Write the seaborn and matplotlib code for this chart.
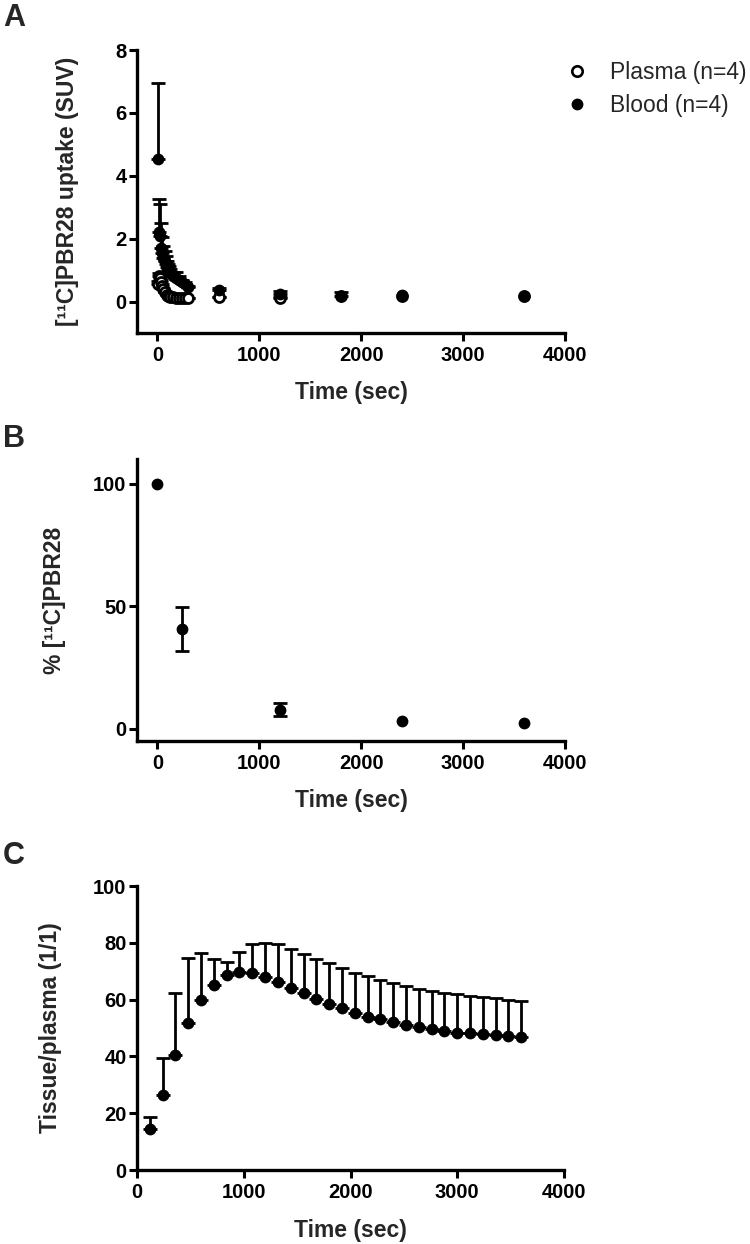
import numpy as np
import pandas as pd
import matplotlib
matplotlib.use("Agg")
import matplotlib.pyplot as plt
import seaborn as sns
from matplotlib.lines import Line2D

# ---------------- data ----------------
# Panel A: blood / plasma SUV curves
blood_time = [10, 20, 30, 40, 50, 60, 70, 80, 90, 100, 110, 120, 150, 180, 210, 240, 270, 300,
              600, 1200, 1800, 2400, 3600]
blood_suv = [4.52, 2.2, 2.1, 1.7, 1.55, 1.4, 1.3, 1.2, 1.1, 1.02, 0.95, 0.9, 0.82, 0.75, 0.7, 0.62, 0.55, 0.45,
             0.38, 0.25, 0.19, 0.2, 0.19]
blood_sd = [2.42, 1.05, 1.0, 0.8, 0.5, 0.36, 0.3, 0.25, 0.2, 0.18, 0.18, 0.15, 0.12, 0.19, 0.1, 0.08, 0.06, 0.05,
            0.06, 0.08, 0.1, 0.0, 0.0]

plasma_time = [10, 20, 30, 40, 50, 60, 75, 90, 105, 120, 150, 180, 210, 240, 270, 300,
               600, 1200, 1800, 2400, 3600]
plasma_suv = [0.55, 0.8, 0.75, 0.62, 0.5, 0.4, 0.3, 0.22, 0.18, 0.15, 0.13, 0.12, 0.11, 0.1, 0.1, 0.1,
              0.13, 0.1, 0.17, 0.19, 0.18]
plasma_sd = [0.1, 0.1, 0.08, 0.06, 0.05, 0.04, 0.03, 0.03, 0.02, 0.02, 0.02, 0.02, 0.02, 0.02, 0.02, 0.02,
             0.03, 0.03, 0.0, 0.0, 0.0]

# Panel B: % parent compound
parent_time = [0, 240, 1200, 2400, 3600]
parent_pct = [100, 40.5, 7.7, 3.2, 2.5]
parent_sd = [0, 9.0, 2.6, 0.4, 0.4]

# Panel C: tissue/plasma ratio
ratio_time = [120, 240, 360, 480, 600, 720, 840, 960, 1080, 1200, 1320, 1440, 1560, 1680, 1800,
              1920, 2040, 2160, 2280, 2400, 2520, 2640, 2760, 2880, 3000, 3120, 3240, 3360, 3480, 3600]
ratio_mean = [14.3, 26.3, 40.5, 51.6, 59.9, 65.1, 68.7, 69.8, 69.2, 68.1, 66.1, 64.0, 62.2, 60.2, 58.5,
              56.9, 55.4, 54.0, 53.1, 52.1, 51.1, 50.2, 49.5, 49.1, 48.4, 48.1, 47.8, 47.4, 47.2, 46.7]
ratio_sd = [4.2, 13.3, 21.9, 22.9, 16.4, 9.3, 4.4, 7.0, 10.3, 11.9, 13.4, 13.9, 14.0, 14.2, 14.3,
            14.1, 14.1, 14.4, 13.8, 13.7, 13.8, 13.6, 13.6, 13.3, 13.6, 13.3, 13.2, 13.2, 12.7, 12.9]

# ---------------- style ----------------
sns.set_theme(style="ticks")
plt.rcParams["font.family"] = ["Liberation Sans", "DejaVu Sans"]

W, H = 750, 1244
fig = plt.figure(figsize=(W / 100, H / 100), dpi=100)


def ax_at(l, t, r, b):
    return fig.add_axes([l / W, 1 - b / H, (r - l) / W, (b - t) / H])


axA = ax_at(137, 50, 565, 333)
axB = ax_at(137, 459, 565, 741)
axC = ax_at(137, 886, 564, 1170)

MS = 72
EB = dict(fmt="none", ecolor="black", elinewidth=2.0, capsize=4.8, capthick=2.0, zorder=2)


def errbars(ax, df, upper_only, min_visible):
    d = df[df["sd"] > min_visible]
    if upper_only:
        ax.errorbar(d["t"], d["v"], yerr=[np.zeros(len(d)), d["sd"]], **EB)
    else:
        ax.errorbar(d["t"], d["v"], yerr=d["sd"], **EB)


def style(ax, ylabel, ylab_x):
    sns.despine(ax=ax)
    for s in ("left", "bottom"):
        ax.spines[s].set_linewidth(2.4)
        ax.spines[s].set_color("black")
    ax.tick_params(axis="both", direction="out", length=6, width=2.2, colors="black",
                   labelsize=14.5)
    ax.tick_params(axis="x", pad=3.5)
    ax.tick_params(axis="y", pad=1.5)
    for lab in ax.get_xticklabels() + ax.get_yticklabels():
        lab.set_fontweight("bold")
    ax.set_xlabel("Time (sec)", fontsize=16.5, fontweight="bold", va="center")
    ax.set_ylabel(ylabel, fontsize=16.5, fontweight="bold", va="center")
    hpx = ax.get_position().height * H
    wpx = ax.get_position().width * W
    ax.xaxis.set_label_coords(0.5, -60 / hpx)
    ax.yaxis.set_label_coords((ylab_x - 137) / wpx, 0.5)
    ax.set_facecolor("white")


# ---- Panel A ----
dfb = pd.DataFrame({"t": blood_time, "v": blood_suv, "sd": blood_sd})
dfp = pd.DataFrame({"t": plasma_time, "v": plasma_suv, "sd": plasma_sd})
errbars(axA, dfp, True, 0.005)
sns.scatterplot(data=dfp, x="t", y="v", ax=axA, s=52, facecolor="white", edgecolor="black",
                linewidth=2.0, zorder=3, legend=False)
errbars(axA, dfb, True, 0.005)
sns.scatterplot(data=dfb, x="t", y="v", ax=axA, s=MS, color="black", edgecolor="black",
                linewidth=0, zorder=4, legend=False)
axA.set_xlim(-200, 4000)
axA.set_ylim(-1, 8)
axA.set_xticks([0, 1000, 2000, 3000, 4000])
axA.set_yticks([0, 2, 4, 6, 8])
style(axA, "[¹¹C]PBR28 uptake (SUV)", 68)

handles = [
    Line2D([], [], ls="none", marker="o", markersize=7.5, markerfacecolor="white",
           markeredgecolor="black", markeredgewidth=1.9),
    Line2D([], [], ls="none", marker="o", markersize=8.5, markerfacecolor="black",
           markeredgecolor="black", markeredgewidth=0),
]
axA.legend(handles, ["Plasma (n=4)", "Blood (n=4)"], loc="center left",
           bbox_to_anchor=(565.5 / W, 1 - 89 / H), bbox_transform=fig.transFigure,
           frameon=False, borderpad=0, borderaxespad=0, handlelength=1.0,
           handletextpad=0.95, labelspacing=0.45, prop={"size": 16.5, "family": "Liberation Sans"})

# ---- Panel B ----
dfB = pd.DataFrame({"t": parent_time, "v": parent_pct, "sd": parent_sd})
errbars(axB, dfB, False, 1.0)
sns.scatterplot(data=dfB, x="t", y="v", ax=axB, s=MS, color="black", edgecolor="black",
                linewidth=0, zorder=3, legend=False)
axB.set_xlim(-200, 4000)
axB.set_ylim(-5, 110)
axB.set_xticks([0, 1000, 2000, 3000, 4000])
axB.set_yticks([0, 50, 100])
style(axB, "% [¹¹C]PBR28", 54)

# ---- Panel C ----
dfC = pd.DataFrame({"t": ratio_time, "v": ratio_mean, "sd": ratio_sd})
errbars(axC, dfC, True, 0.0)
sns.scatterplot(data=dfC, x="t", y="v", ax=axC, s=MS, color="black", edgecolor="black",
                linewidth=0, zorder=3, legend=False)
axC.set_xlim(0, 4000)
axC.set_ylim(0, 100)
axC.set_xticks([0, 1000, 2000, 3000, 4000])
axC.set_yticks([0, 20, 40, 60, 80, 100])
style(axC, "Tissue/plasma (1/1)", 51)

for letter, ytop in (("A", 3), ("B", 424), ("C", 841)):
    fig.text(3 / W, 1 - ytop / H, letter, fontsize=22, fontweight="bold", va="top", ha="left")

fig.savefig("out.png", dpi=100, facecolor="white")
